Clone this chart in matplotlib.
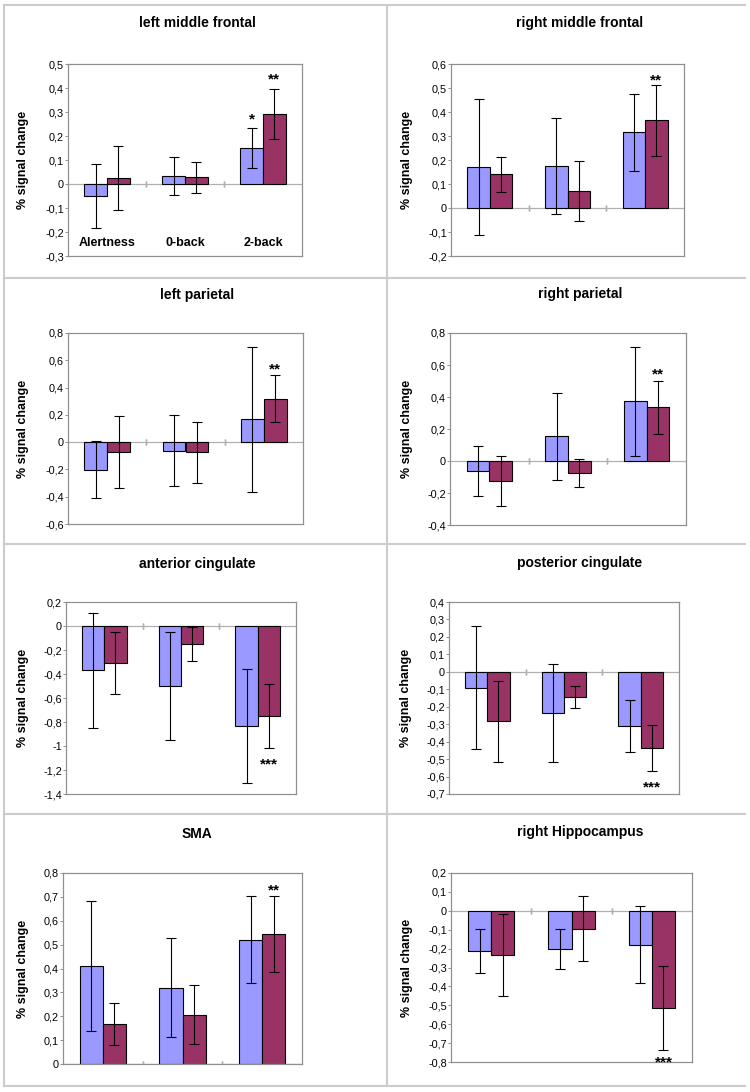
import matplotlib
matplotlib.use("Agg")
import matplotlib.pyplot as plt
from matplotlib.lines import Line2D
import numpy as np

plt.rcParams['font.family'] = ['Liberation Sans', 'DejaVu Sans']

categories = ["Alertness", "0-back", "2-back"]

titles = ["left middle frontal", "right middle frontal", "left parietal", "right parietal",
          "anterior cingulate", "posterior cingulate", "SMA", "right Hippocampus"]

blue_vals = [
    [-0.050, 0.033, 0.150],
    [0.170, 0.174, 0.315],
    [-0.203, -0.062, 0.168],
    [-0.062, 0.156, 0.372],
    [-0.370, -0.500, -0.836],
    [-0.092, -0.235, -0.311],
    [0.410, 0.320, 0.520],
    [-0.213, -0.202, -0.179],
]
blue_err = [
    [0.135, 0.080, 0.083],
    [0.283, 0.200, 0.160],
    [0.210, 0.262, 0.533],
    [0.155, 0.272, 0.343],
    [0.478, 0.450, 0.476],
    [0.353, 0.279, 0.151],
    [0.273, 0.206, 0.182],
    [0.116, 0.105, 0.204],
]
purple_vals = [
    [0.025, 0.028, 0.290],
    [0.141, 0.070, 0.365],
    [-0.071, -0.075, 0.318],
    [-0.127, -0.076, 0.336],
    [-0.310, -0.152, -0.750],
    [-0.283, -0.143, -0.436],
    [0.169, 0.206, 0.545],
    [-0.234, -0.094, -0.516],
]
purple_err = [
    [0.135, 0.065, 0.104],
    [0.073, 0.126, 0.149],
    [0.264, 0.222, 0.174],
    [0.157, 0.087, 0.166],
    [0.258, 0.141, 0.267],
    [0.231, 0.063, 0.132],
    [0.088, 0.123, 0.160],
    [0.218, 0.172, 0.222],
]
y_limits = [(-0.3, 0.5), (-0.2, 0.6), (-0.6, 0.8), (-0.4, 0.8),
            (-1.4, 0.2), (-0.7, 0.4), (0.0, 0.8), (-0.8, 0.2)]
y_steps = [0.1, 0.1, 0.2, 0.2, 0.2, 0.1, 0.1, 0.1]

# significance marks: (series, category, text, y)
stars = [
    [("b", 2, "*", 0.27), ("p", 2, "**", 0.435)],
    [("p", 2, "**", 0.53)],
    [("p", 2, "**", 0.53)],
    [("p", 2, "**", 0.54)],
    [("p", 2, "***", -1.15)],
    [("p", 2, "***", -0.66)],
    [("p", 2, "**", 0.725)],
    [("p", 2, "***", -0.8)],
]

W, H = 750, 1092
fig = plt.figure(figsize=(W / 100, H / 100), dpi=100)

# axes boxes in pixels: left, right, top, bottom
boxes = [
    (68, 302, 64, 256), (451, 684, 64, 256),
    (68, 303, 333, 524), (450, 686, 333, 525),
    (66, 296, 602, 794), (449, 679, 602, 794),
    (63, 302, 873, 1064), (451, 692, 873, 1062),
]
title_pos = [(197, 23), (580, 23), (197, 295), (580, 294),
             (197, 564), (580, 563), (197, 834), (580, 832)]
ylabel_x = [23, 407, 23, 407, 23, 406, 23, 407]

BLUE = "#9999FF"
PURPLE = "#993366"
bw = 0.29

def fmt(v):
    if abs(v) < 1e-9:
        return "0"
    s = ("%.1f" % v).replace(".", ",")
    if s.endswith(",0"):
        s = s[:-2]
    return s

for i in range(8):
    l, r, t, b = boxes[i]
    ax = fig.add_axes([l / W, 1 - b / H, (r - l) / W, (b - t) / H])
    x = np.arange(len(categories))
    ax.axhline(0, color="#b0b0b0", lw=0.9, zorder=1)
    ax.bar(x - bw / 2, blue_vals[i], bw, color=BLUE, edgecolor="black", lw=0.8, zorder=2)
    ax.bar(x + bw / 2, purple_vals[i], bw, color=PURPLE, edgecolor="black", lw=0.8, zorder=2)
    ax.errorbar(x - bw / 2, blue_vals[i], yerr=blue_err[i], fmt="none", ecolor="black",
                elinewidth=0.8, capsize=3.5, capthick=0.8, zorder=3)
    ax.errorbar(x + bw / 2, purple_vals[i], yerr=purple_err[i], fmt="none", ecolor="black",
                elinewidth=0.8, capsize=3.5, capthick=0.8, zorder=3)
    lo, hi = y_limits[i]
    ax.set_ylim(lo, hi)
    ax.set_xlim(-0.5, 2.5)
    ticks = np.round(np.arange(lo, hi + 1e-9, y_steps[i]), 2)
    ax.set_yticks(ticks)
    ax.set_yticklabels([fmt(v) for v in ticks], fontsize=7.8)
    ax.set_xticks([])
    # category separator ticks on zero line
    for sx in [0.5, 1.5]:
        ax.plot([sx, sx], [0, 0], marker="|", ms=4, color="#b0b0b0", zorder=1)
    for sp in ax.spines.values():
        sp.set_color("#909090")
        sp.set_linewidth(0.9)
    ax.tick_params(axis="y", length=2.5, width=0.7, color="#909090", pad=0.5)
    ax.set_ylabel("% signal change", fontsize=9, fontweight="bold")
    ax.yaxis.label.set_va("center")
    ax.yaxis.set_label_coords((ylabel_x[i] - l) / (r - l), 0.5)
    for ser, c, txt, yy in stars[i]:
        xx = c - bw / 2 if ser == "b" else c + bw / 2
        ax.text(xx, yy, txt, ha="center", va="center", fontsize=11, fontweight="bold",
                clip_on=False, zorder=4)
    if i == 0:
        for c, name in enumerate(categories):
            ax.text(c, -0.245, name, ha="center", va="center", fontsize=9, fontweight="bold")
    tx, ty = title_pos[i]
    fig.text(tx / W, 1 - ty / H, titles[i], ha="center", va="center", fontsize=10,
             fontweight="bold")

# panel border lines
lc = "#cccccc"
for yy in [5, 278, 544, 814, 1086]:
    fig.add_artist(Line2D([4 / W, 745 / W], [1 - yy / H, 1 - yy / H], color=lc, lw=1.5))
for xx in [4, 387]:
    fig.add_artist(Line2D([xx / W, xx / W], [1 - 5 / H, 1 - 1086 / H], color=lc, lw=1.5))

fig.savefig("out.png", dpi=100)
